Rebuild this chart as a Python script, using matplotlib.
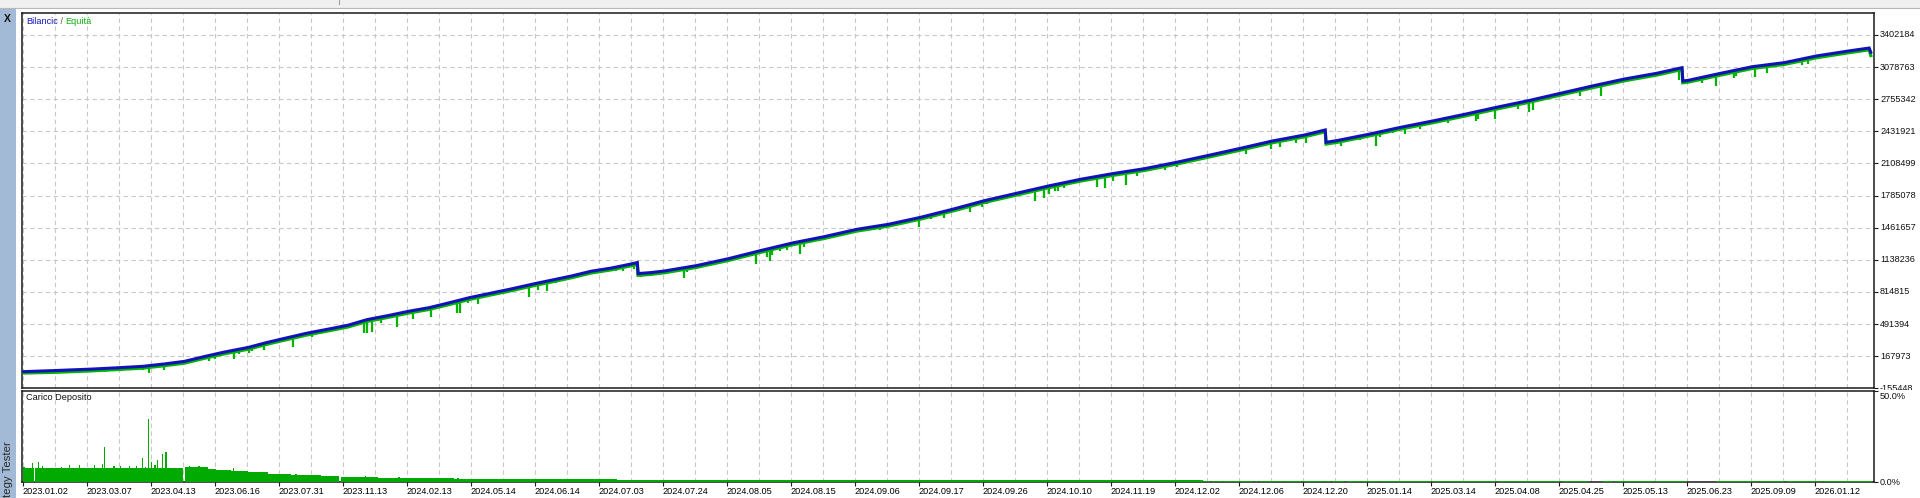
import numpy as np
import matplotlib
matplotlib.use("Agg")
import matplotlib.pyplot as plt
from matplotlib.transforms import Bbox, TransformedBbox, blended_transform_factory, offset_copy
from matplotlib.offsetbox import TextArea, HPacker, AnchoredOffsetbox
from matplotlib.patches import Rectangle
from matplotlib.lines import Line2D

plt.rcParams['font.family'] = ['Liberation Sans', 'DejaVu Sans']
plt.rcParams['lines.scale_dashes'] = False

# ---------------- data ----------------
# x axis = deal number
bal_x = [0, 21, 43, 60, 75, 88, 101, 113, 126, 141, 152, 161, 177, 190, 203, 215, 228, 241, 254, 266,
         279, 292, 304, 321, 330, 343, 355, 368, 380, 384, 384.5, 392, 401, 421, 441, 461, 481, 501, 521,
         541, 561, 581, 601, 621, 641, 661, 681, 701, 721, 741, 761, 781, 801, 814, 814.5, 821, 841, 861,
         881, 901, 921, 941, 961, 981, 1001, 1021, 1037, 1037.5, 1041, 1061, 1081, 1101, 1121, 1141, 1154, 1155]
bal_y = [12000, 24000, 38000, 52000, 66000, 89000, 116000, 163000, 210000, 257000, 304000, 338000, 398000,
         438000, 479000, 536000, 576000, 620000, 657000, 704000, 757000, 801000, 841000, 902000, 932000,
         976000, 1023000, 1056000, 1096000, 1111000, 1000000, 1009000, 1026000, 1080000, 1150000, 1231000,
         1308000, 1372000, 1445000, 1496000, 1566000, 1647000, 1734000, 1808000, 1882000, 1949000, 2006000,
         2056000, 2120000, 2190000, 2261000, 2335000, 2395000, 2446000, 2322000, 2338000, 2402000, 2472000,
         2536000, 2603000, 2674000, 2741000, 2815000, 2889000, 2959000, 3016000, 3073000, 2939000, 2946000,
         3016000, 3083000, 3124000, 3191000, 3241000, 3271000, 3228000]
eq_y = [-2000, 6000, 20000, 34000, 48000, 71000, 98000, 145000, 192000, 239000, 286000, 320000, 380000,
        420000, 461000, 518000, 558000, 602000, 639000, 686000, 739000, 783000, 823000, 884000, 914000,
        958000, 1005000, 1038000, 1078000, 1093000, 982000, 991000, 1008000, 1062000, 1132000, 1213000,
        1290000, 1354000, 1427000, 1478000, 1548000, 1629000, 1716000, 1790000, 1864000, 1931000, 1988000,
        2038000, 2102000, 2172000, 2243000, 2317000, 2377000, 2428000, 2304000, 2320000, 2384000, 2454000,
        2518000, 2585000, 2656000, 2723000, 2797000, 2871000, 2941000, 2998000, 3055000, 2921000, 2928000,
        2998000, 3065000, 3106000, 3173000, 3223000, 3253000, 3195000]

# equity drawdown spikes: deal number and lowest equity
dip_x = [21.7, 51.0, 75.2, 79.0, 88.0, 116.0, 119.8, 131.8, 135.1, 141.4, 143.2, 150.9, 169.0, 180.4,
         188.6, 213.3, 214.8, 217.9, 223.7, 233.7, 244.1, 255.3, 271.4, 273.0, 278.3, 284.6, 316.0, 321.8,
         327.4, 333.3, 370.7, 375.3, 382.2, 386.0, 390.4,
         413.1, 415.2, 458.3, 465.3, 466.7, 468.1, 473.5, 477.3, 485.4, 488.1, 527.0, 535.6, 559.8, 567.6,
         575.7, 592.2, 599.5, 602.8, 632.6, 638.0, 641.5, 644.8, 647.0, 650.7, 671.1, 676.5, 681.6, 689.5,
         696.3, 713.9, 721.5, 764.6, 780.1, 786.0, 795.8,
         801.8, 824.0, 836.0, 846.0, 848.0, 856.3, 864.0, 873.0, 890.7, 908.2, 909.5, 920.1, 934.6, 941.2,
         943.6, 973.5, 986.6, 1035.4, 1049.3, 1058.1, 1069.6, 1071.0, 1082.8, 1090.0, 1112.0, 1115.8, 1155.6]
dip_low = [5600, 9000, 29100, 2300, 32500, 123100, 143200, 143200, 190200, 200200, 223700, 233800, 264000,
           364700, 405000, 398300, 398300, 408300, 502300, 465400, 545900, 559400, 606400, 606400, 700300,
           697000, 767500, 834600, 824600, 901700, 1029300, 1029300, 1049400, 969000, 972400,
           952000, 1012500, 1093000, 1170200, 1130000, 1187000, 1224000, 1237400, 1193700, 1264200, 1425300,
           1438700, 1465600, 1546100, 1556300, 1620000, 1667000, 1700500, 1727400, 1757600, 1804600, 1834800,
           1831400, 1858300, 1868400, 1858300, 1928800, 1888500, 1982500, 2043000, 2076600, 2200800, 2251100,
           2271100, 2318100,
           2311400, 2287900, 2345000, 2287900, 2371800, 2412100, 2408700, 2459100, 2512800, 2536300, 2556400,
           2559800, 2653800, 2623600, 2647100, 2788100, 2791400, 2949100, 2922200, 2892000, 2965900, 2989400,
           2982600, 3016200, 3096700, 3110200, 3190700]

# deposit load (%) : flat segments and single-deal spikes
load_start = [0, 7.6, 101.0, 115.4, 120.6, 130, 140.4, 153, 167.5, 186, 198.6, 221.7, 269.4, 371, 415,
              738.5, 743, 751, 770, 773, 789, 800, 814, 818, 827, 849, 881, 922, 962, 987, 995, 1020,
              1058, 1086, 1102, 1126]
load_end = [7.0, 100.3, 115.4, 120.6, 130, 140.4, 153, 167.5, 186, 197.5, 221.7, 269.4, 371, 415, 737.5,
            742, 750, 769, 772, 788, 799, 813, 817, 826, 848, 880, 921, 961, 978, 994, 1019, 1040,
            1085, 1101, 1125, 1156]
load_level = [7.8, 7.7, 8.2, 7.3, 6.7, 6.0, 5.3, 4.5, 3.8, 3.3, 2.8, 2.2, 1.5, 1.3, 0.9,
              0.5, 0.5, 0.5, 0.5, 0.5, 0.5, 0.5, 0.5, 0.5, 0.5, 0.5, 0.5, 0.5, 0.5, 0.5, 0.5, 0.5,
              0.5, 0.5, 0.5, 0.5]
spike_x = [0.5, 6, 9.8, 12.3, 24, 29, 35.4, 44.6, 49.8, 51, 57, 61, 66.5, 71, 74.8, 76.5, 78.5, 80.4,
           82.5, 84.2, 87.3, 89.4, 104, 110, 131.7, 151, 170.8, 214, 234.9, 272]
spike_h = [8.2, 10.4, 11.1, 8.8, 8.0, 9.1, 9.3, 9.1, 9.9, 19.2, 8.6, 8.6, 8.8, 8.8, 13.1, 8.4, 34.5, 11.1,
           9.3, 11.9, 15.3, 16.4, 8.6, 8.6, 7.7, 5.1, 4.6, 3.5, 2.6, 2.2]

y_ticks = [-155448, 167973, 491394, 814815, 1138236, 1461657, 1785078, 2108499, 2431921, 2755342,
           3078763, 3402184]
y_labels = ['-155448', '167973', '491394', '814815', '1138236', '1461657', '1785078', '2108499',
            '2431921', '2755342', '3078763', '3402184']
x_labels = ['2023.01.02', '2023.03.07', '2023.04.13', '2023.06.16', '2023.07.31', '2023.11.13',
            '2024.02.13', '2024.05.14', '2024.06.14', '2024.07.03', '2024.07.24', '2024.08.05',
            '2024.08.15', '2024.09.06', '2024.09.17', '2024.09.26', '2024.10.10', '2024.11.19',
            '2024.12.02', '2024.12.06', '2024.12.20', '2025.01.14', '2025.03.14', '2025.04.08',
            '2025.04.25', '2025.05.13', '2025.06.23', '2025.09.09', '2026.01.12']
deals_per_label = 40

# ---------------- style ----------------
BLUE = '#1212b8'
GREEN = '#00b400'
BARG = '#00aa00'
GRID = '#c8c8c8'
FS = 6.6

W, H, DPI = 1920, 498, 100
fig = plt.figure(figsize=(W / DPI, H / DPI), dpi=DPI, facecolor='white')


def frac(x0, y0, x1, y1):
    return [x0 / W, 1 - y1 / H, (x1 - x0) / W, (y1 - y0) / H]


ax = fig.add_axes(frac(22, 13, 1874, 388.3))
ax2 = fig.add_axes(frac(22, 390.5, 1874, 482))

XMIN, XMAX = -0.6, 1157
for a in (ax, ax2):
    a.set_xlim(XMIN, XMAX)
    a.set_facecolor('white')
    for s in a.spines.values():
        s.set_linewidth(1.1)
        s.set_color('#1a1a1a')
    a.set_axisbelow(True)

ax.set_ylim(-155448, 3623700)
ax2.set_ylim(0, 50)

gstyle = dict(color=GRID, linestyle=(0, (3.2, 2.4)), linewidth=0.8)
# main grid
ax.set_xticks(np.arange(0, XMAX, deals_per_label // 2))
ax.tick_params(axis='x', length=0, labelbottom=False)
ax.set_yticks(y_ticks)
ax.yaxis.tick_right()
ax.tick_params(axis='y', which='major', direction='out', length=3, width=0.8, labelright=False,
               color='#1a1a1a')
ax.grid(True, **gstyle)

# sub grid / x labels
ax2.set_xticks(np.arange(len(x_labels)) * deals_per_label)
ax2.set_xticklabels(x_labels, ha='left', fontsize=FS)
ax2.set_xticks(np.arange(deals_per_label // 2, XMAX, deals_per_label), minor=True)
ax2.tick_params(axis='x', which='major', direction='out', length=3, width=0.8, pad=0.6, color='#1a1a1a')
ax2.tick_params(axis='x', which='minor', length=0)
ax2.grid(True, axis='x', which='both', **gstyle)
ax2.set_yticks([0, 50])
ax2.yaxis.tick_right()
ax2.tick_params(axis='y', direction='out', length=3, width=0.8, labelright=False, color='#1a1a1a')

# equity, spikes, balance
ax.plot(bal_x, eq_y, color=GREEN, lw=2.3, solid_joinstyle='miter', zorder=3)
dip_top = np.interp(dip_x, bal_x, eq_y)
ax.vlines(dip_x, dip_low, dip_top, color=GREEN, lw=1.6, zorder=3)
ax.plot(bal_x, bal_y, color=BLUE, lw=2.2, solid_joinstyle='miter', zorder=4)

# deposit load bars
ax2.bar(load_start, load_level, width=np.array(load_end) - np.array(load_start), align='edge',
        color=BARG, linewidth=0, zorder=3)
ax2.bar(spike_x, spike_h, width=1.0, align='center', color=BARG, linewidth=0, zorder=3)

# right axis labels
ytrans = blended_transform_factory(fig.transFigure, ax.transData)
clipbb = TransformedBbox(Bbox.from_extents(0, 1 - 390.0 / H, 1, 1), fig.transFigure)
for v, s in zip(y_ticks, y_labels):
    t = fig.text(1880 / W, v, s, transform=ytrans, ha='left', va='center', fontsize=FS, color='#111111')
    t.set_clip_box(clipbb)
    t.set_clip_on(True)

y2trans = blended_transform_factory(fig.transFigure, ax2.transData)
fig.text(1880 / W, 50, '50.0%', transform=offset_copy(y2trans, fig=fig, y=-1.5, units='dots'),
         ha='left', va='top', fontsize=FS, color='#111111')
fig.text(1880 / W, 0, '0.0%', transform=y2trans, ha='left', va='center', fontsize=FS, color='#111111')

# legend text
boxes = [TextArea('Bilancic', textprops=dict(color='#1515c0', fontsize=FS)),
         TextArea(' / ', textprops=dict(color='#7a4a3a', fontsize=FS)),
         TextArea('Equità', textprops=dict(color='#10b010', fontsize=FS))]
hp = HPacker(children=boxes, align='baseline', pad=0, sep=0)
anc = AnchoredOffsetbox(loc='upper left', child=hp, pad=0, borderpad=0, frameon=False,
                        bbox_to_anchor=(26 / W, 1 - 16.5 / H), bbox_transform=fig.transFigure)
fig.add_artist(anc)

fig.text(26.5 / W, 1 - 398 / H, 'Carico Deposito', ha='left', va='center', fontsize=FS, color='#111111')

# window chrome
fig.add_artist(Rectangle((0, 1 - 8 / H), 1, 8 / H, transform=fig.transFigure,
                         facecolor='#f0f0f0', edgecolor='none', zorder=-5))
fig.add_artist(Line2D([0, 1], [1 - 8.5 / H, 1 - 8.5 / H], transform=fig.transFigure,
                      color='#b8b8b8', lw=0.8))
fig.add_artist(Line2D([339 / W, 339 / W], [1, 1 - 4 / H], transform=fig.transFigure,
                      color='#a0a0a0', lw=0.8))
fig.add_artist(Rectangle((0, 0), 16 / W, 1 - 9 / H, transform=fig.transFigure,
                         facecolor='#a2bad5', edgecolor='none', zorder=-5))
fig.text(7.5 / W, 1 - 19.5 / H, 'X', ha='center', va='center', fontsize=7.5, fontweight='bold',
         color='#111111')
fig.text(8.0 / W, 1 - 441 / H, 'Strategy Tester', rotation=90, ha='center', va='top',
         fontsize=8.2, color='#2a2a2a')

fig.savefig('out.png', dpi=DPI, facecolor='white')
